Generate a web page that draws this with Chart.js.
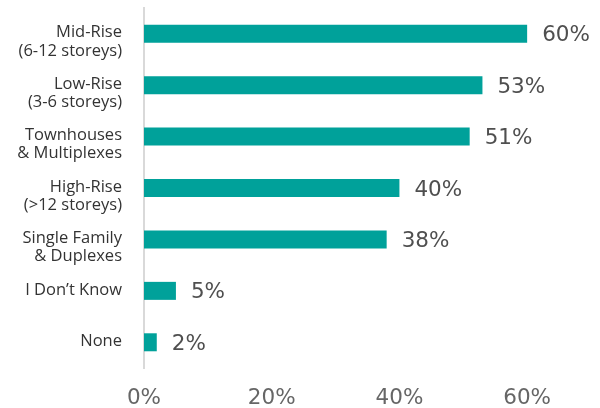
<!DOCTYPE html>
<html>
<head>
<meta charset="utf-8">
<script src="https://cdn.jsdelivr.net/npm/chart.js@4"></script>
<style>
body{margin:0;background:#fff;}
#wrap{width:600px;height:408px;position:relative;}
</style>
</head>
<body>
<div id="wrap"><canvas id="myChart"></canvas></div>
<script>
//// DATOS
var categorias = [
  ["Mid-Rise", "(6-12 storeys)"],
  ["Low-Rise", "(3-6 storeys)"],
  ["Townhouses", "& Multiplexes"],
  ["High-Rise", "(>12 storeys)"],
  ["Single Family", "& Duplexes"],
  "I Don\u2019t Know",
  "None"
];
var valores = [60, 53, 51, 40, 38, 5, 2];
var ticks_x = [0, 20, 40, 60];

var fuente = "'Open Sans', sans-serif";
var fuente_num = "'DejaVu Sans', sans-serif";

//// etiquetas de valor a la derecha de cada barra
var etiquetasValor = {
  id: "etiquetasValor",
  afterDatasetsDraw: function(chart){
    var ctx = chart.ctx;
    var meta = chart.getDatasetMeta(0);
    ctx.save();
    ctx.font = "21.5px " + fuente_num;
    ctx.fillStyle = "#4f4f4f";
    ctx.textAlign = "left";
    ctx.textBaseline = "middle";
    meta.data.forEach(function(bar, i){
      ctx.fillText(valores[i] + "%", bar.x + 15, bar.y + 2);
    });
    ctx.restore();
  }
};

var ctx = document.getElementById("myChart").getContext("2d");
var myChart = new Chart(ctx, {
  type: "bar",
  data: {
    labels: categorias,
    datasets: [{
      data: valores,
      backgroundColor: "#00a19a",
      borderWidth: 0,
      barPercentage: 0.7,
      categoryPercentage: 0.5
    }]
  },
  options: {
    indexAxis: "y",
    responsive: true,
    maintainAspectRatio: false,
    animation: false,
    layout: { padding: { top: 8, right: 9, left: 0, bottom: 0 } },
    plugins: { legend: { display: false }, tooltip: { enabled: false } },
    scales: {
      x: {
        min: 0,
        max: 70,
        afterBuildTicks: function(scale){
          scale.ticks = ticks_x.map(function(v){ return { value: v }; });
        },
        afterFit: function(scale){ scale.height = 40; scale.paddingLeft = 0; scale.paddingRight = 0; },
        grid: { display: false, drawTicks: false },
        border: { display: false },
        ticks: {
          padding: 18,
          color: "#666",
          font: { family: fuente_num, size: 21.5 },
          callback: function(v){ return v + "%"; }
        }
      },
      y: {
        afterFit: function(scale){ scale.width = 144; scale.paddingTop = 0; scale.paddingBottom = 0; },
        grid: { display: false, drawTicks: false },
        border: { display: true, color: "#d9d9d9", width: 2 },
        ticks: {
          autoSkip: false,
          padding: 22,
          labelOffset: -1,
          color: "#333",
          font: { family: fuente, size: 16.5, lineHeight: 1.1 },
          // primera linea a la altura de la barra, segunda debajo
          callback: function(v){
            var l = this.getLabelForValue(v);
            return Array.isArray(l) ? [""].concat(l) : l;
          }
        }
      }
    }
  },
  plugins: [etiquetasValor]
});
</script>
</body>
</html>
